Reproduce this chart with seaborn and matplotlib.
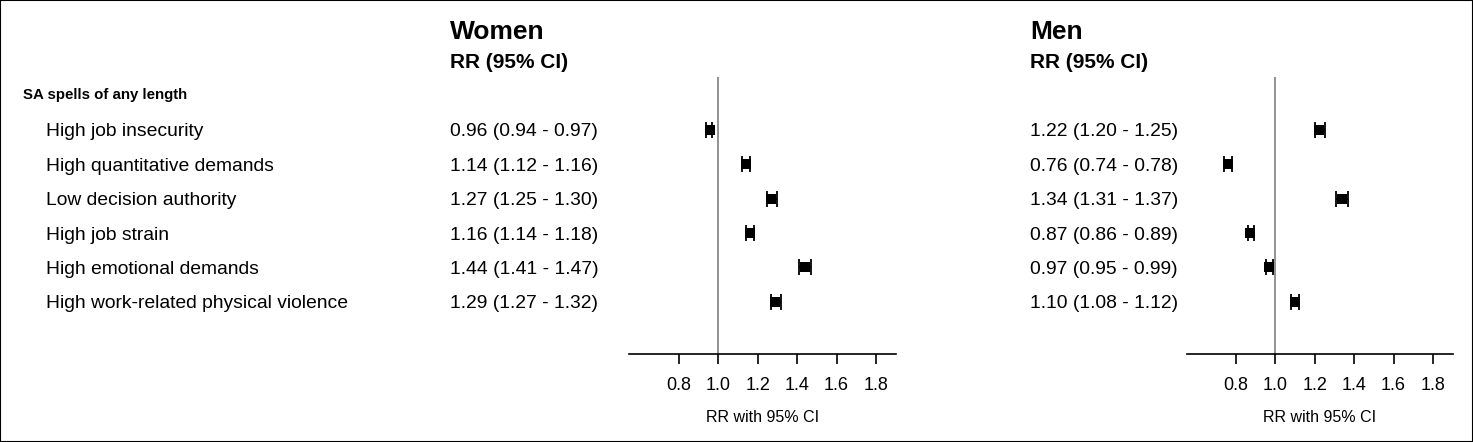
import numpy as np
import pandas as pd
import matplotlib
matplotlib.use("Agg")
import matplotlib.pyplot as plt
import matplotlib.transforms as mtransforms
from matplotlib.patches import Rectangle
import seaborn as sns

sns.set_theme(style="white")
plt.rcParams['font.family'] = ['Liberation Sans', 'DejaVu Sans']
plt.rcParams['text.color'] = 'black'
plt.rcParams['axes.labelcolor'] = 'black'
plt.rcParams['xtick.color'] = 'black'

# ---------------- data ----------------
exposures = [
    "High job insecurity",
    "High quantitative demands",
    "Low decision authority",
    "High job strain",
    "High emotional demands",
    "High work-related physical violence",
]
women_rr = [0.96, 1.14, 1.27, 1.16, 1.44, 1.29]
women_lo = [0.94, 1.12, 1.25, 1.14, 1.41, 1.27]
women_hi = [0.97, 1.16, 1.30, 1.18, 1.47, 1.32]
men_rr = [1.22, 0.76, 1.34, 0.87, 0.97, 1.10]
men_lo = [1.20, 0.74, 1.31, 0.86, 0.95, 1.08]
men_hi = [1.25, 0.78, 1.37, 0.89, 0.99, 1.12]
section_title = "SA spells of any length"
groups = ["Women", "Men"]
x_ticks = [0.8, 1.0, 1.2, 1.4, 1.6, 1.8]
x_label = "RR with 95% CI"
col_header = "RR (95% CI)"

W, H = 1473, 442
fig = plt.figure(figsize=(W / 100, H / 100), dpi=100)
fig.patch.set_facecolor("white")
fig.patches.append(Rectangle((0, 0), 1, 1, transform=fig.transFigure,
                             fill=False, edgecolor="black", linewidth=1.5))

def fx(px):
    return px / W

def fy(py):
    return 1 - py / H

ax_bottom = fy(354.3)
ax_height = (354.3 - 76.7) / H
panels = [
    dict(name=groups[0], left=629.3, right=895.7, text_x=450,
         rr=women_rr, lo=women_lo, hi=women_hi),
    dict(name=groups[1], left=1186.7, right=1452.7, text_x=1030,
         rr=men_rr, lo=men_lo, hi=men_hi),
]

n = len(exposures)
ypos = np.arange(n)
shift_down = mtransforms.ScaledTranslation(0, -2 / 100, fig.dpi_scale_trans)

axes = []
for p in panels:
    ax = fig.add_axes([fx(p["left"]), ax_bottom, (p["right"] - p["left"]) / W, ax_height])
    df = pd.DataFrame({"exposure": exposures, "rr": p["rr"], "lo": p["lo"],
                       "hi": p["hi"], "y": ypos})
    ax.axvline(1.0, color="#7f7f7f", linewidth=1.2, zorder=1)
    ax.errorbar(df["rr"], df["y"],
                xerr=[df["rr"] - df["lo"], df["hi"] - df["rr"]],
                fmt="none", ecolor="black", elinewidth=1.3, capsize=5.5,
                capthick=1.3, zorder=2)
    sns.scatterplot(data=df, x="rr", y="y", marker="s", s=48, color="black",
                    edgecolor="black", linewidth=0, ax=ax, zorder=3, legend=False)
    ax.set_xlim(0.55, 1.9)
    ax.set_ylim(n - 1 + 1.53, -1.55)
    ax.set_xticks(x_ticks)
    ax.set_xticklabels([f"{t:.1f}" for t in x_ticks], fontsize=13)
    ax.set_yticks([])
    ax.set_xlabel(x_label, fontsize=11.5, labelpad=12)
    ax.set_ylabel("")
    for s in ["top", "right", "left"]:
        ax.spines[s].set_visible(False)
    ax.spines["bottom"].set_color("black")
    ax.spines["bottom"].set_linewidth(1.2)
    ax.tick_params(axis="x", direction="out", length=7, width=1.2,
                   color="black", pad=9, bottom=True, labelcolor="black")
    ax.set_facecolor("none")
    ax.grid(False)

    # headers
    fig.text(fx(p["text_x"]), fy(32), p["name"], fontsize=19, fontweight="bold",
             ha="left", va="center")
    fig.text(fx(p["text_x"]), fy(63), col_header, fontsize=15, fontweight="bold",
             ha="left", va="center")
    # value column
    trans = mtransforms.blended_transform_factory(fig.transFigure, ax.transData) + shift_down
    for i in range(n):
        fig.text(fx(p["text_x"]), ypos[i],
                 f"{p['rr'][i]:.2f} ({p['lo'][i]:.2f} - {p['hi'][i]:.2f})",
                 transform=trans, fontsize=13.9, ha="left", va="center")
    axes.append(ax)

# left label column
trans0 = mtransforms.blended_transform_factory(fig.transFigure, axes[0].transData) + shift_down
fig.text(fx(23), fy(95), section_title, fontsize=10.8, fontweight="bold",
         ha="left", va="center")
for i, lab in enumerate(exposures):
    fig.text(fx(46), ypos[i], lab, transform=trans0, fontsize=13.9,
             ha="left", va="center")

fig.savefig("out.png", dpi=100, facecolor="white")
